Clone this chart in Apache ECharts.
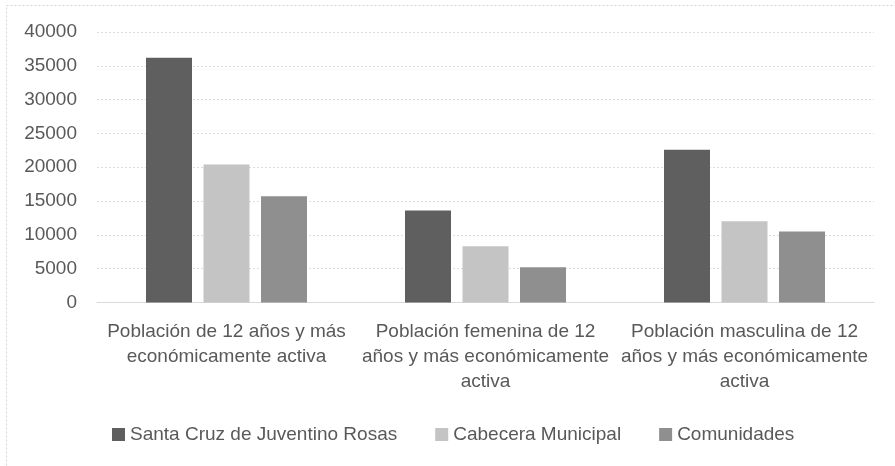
<!DOCTYPE html>
<html>
<head>
<meta charset="utf-8">
<script src="https://cdn.jsdelivr.net/npm/echarts@6/dist/echarts.min.js"></script>
<style>
html,body{margin:0;padding:0;background:#fff;}
#chart{width:895px;height:466px;}
</style>
</head>
<body>
<div id="chart"></div>
<script>
const categories = [
  "Población de 12 años y más\neconómicamente activa",
  "Población femenina de 12\naños y más económicamente\nactiva",
  "Población masculina de 12\naños y más económicamente\nactiva"
];
const seriesNames = ["Santa Cruz de Juventino Rosas", "Cabecera Municipal", "Comunidades"];
const santaCruz = [36200, 13600, 22600];
const cabecera = [20400, 8300, 12000];
const comunidades = [15700, 5200, 10500];
const yTicks = { min: 0, max: 40000, interval: 5000 };

const colors = ["#5f5f5f", "#c4c4c4", "#8f8f8f"];
const font = "'Liberation Sans', Arial, sans-serif";
const textColor = "#595959";

const chart = echarts.init(document.getElementById('chart'), null, { renderer: 'canvas' });
const values = [santaCruz, cabecera, comunidades];
chart.setOption({
  animation: false,
  backgroundColor: '#ffffff',
  graphic: [{
    type: 'rect',
    shape: { x: 6.5, y: 5.5, width: 1000, height: 1000 },
    style: { fill: 'none', stroke: '#d2d2d2', lineWidth: 1, lineDash: [2, 2] },
    silent: true
  }],
  grid: { left: 97, right: 21, top: 32, bottom: 163.5, containLabel: false },
  legend: {
    left: 112, top: 425, padding: 0,
    itemWidth: 13, itemHeight: 13, itemGap: 38,
    icon: 'rect',
    textStyle: { fontSize: 19, color: textColor, fontFamily: font },
    data: seriesNames
  },
  xAxis: {
    type: 'category',
    data: categories,
    axisLine: { show: true, lineStyle: { color: '#d9d9d9', width: 1 } },
    axisTick: { show: false },
    axisLabel: {
      interval: 0, fontSize: 19, lineHeight: 25, color: textColor, fontFamily: font, margin: 17
    }
  },
  yAxis: {
    type: 'value',
    min: yTicks.min, max: yTicks.max, interval: yTicks.interval,
    axisLine: { show: false },
    axisTick: { show: false },
    axisLabel: { fontSize: 19, color: textColor, fontFamily: font, margin: 20,
      formatter: function (v) { return String(v); } },
    splitLine: { lineStyle: { color: '#dcdcdc', type: [2, 2], width: 1 } }
  },
  series: seriesNames.map((name, i) => ({
    name: name,
    type: 'bar',
    data: values[i],
    barWidth: 46,
    barGap: '25%',
    itemStyle: { color: colors[i] }
  }))
});
</script>
</body>
</html>
